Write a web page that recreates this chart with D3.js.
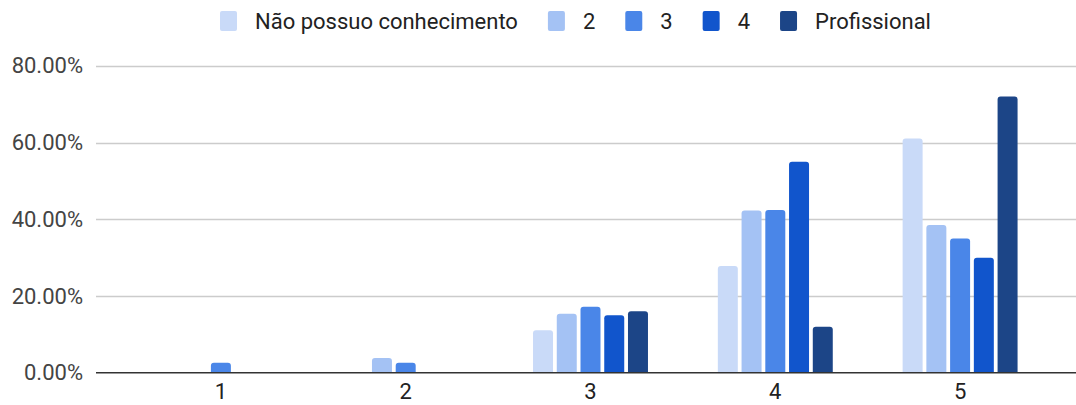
<!DOCTYPE html>
<html>
<head>
<meta charset="utf-8">
<script src="https://cdn.jsdelivr.net/npm/d3@7"></script>
<style>
  body { margin: 0; background: #fff; }
  text { font-family: Roboto, "Liberation Sans", Arial, sans-serif; }
</style>
</head>
<body>
<svg id="chart"></svg>
<script>
var svg_width = 1076;
var svg_height = 405;

// DATA
var categories = ["1", "2", "3", "4", "5"];
var seriesNames = ["Não possuo conhecimento", "2", "3", "4", "Profissional"];
var seriesColors = ["#c9daf8", "#a4c2f4", "#4a86e8", "#1155cc", "#1c4587"];
var naoPossuo = [0, 0, 11.1, 27.8, 61.1];
var nivel2 = [0, 3.85, 15.4, 42.3, 38.5];
var nivel3 = [2.6, 2.6, 17.2, 42.4, 35.0];
var nivel4 = [0, 0, 15, 55, 30];
var profissional = [0, 0, 16, 12, 72];
var yTicks = [0, 20, 40, 60, 80];

var seriesValues = [naoPossuo, nivel2, nivel3, nivel4, profissional];

var svg = d3.select("#chart")
    .attr("width", svg_width)
    .attr("height", svg_height);

// SCALES
var x0 = d3.scaleBand()
           .domain(categories)
           .range([128.5, 1052.5])
           .paddingInner(0.378)
           .paddingOuter(0.189);

var x1 = d3.scaleBand()
           .domain(seriesNames)
           .range([0, x0.bandwidth()])
           .paddingInner(0.158);

var yScale = d3.scaleLinear()
               .domain([0, 80])
               .range([372.7, 65.9]);

// GRIDLINES + Y LABELS
var yAxis = d3.axisLeft(yScale)
              .tickValues(yTicks)
              .tickSize(0)
              .tickPadding(13)
              .tickFormat(function(d) { return d.toFixed(2) + "%"; });

var gy = svg.append("g")
    .attr("transform", "translate(96, 0)")
    .call(yAxis);
gy.select(".domain").remove();
gy.selectAll("text")
    .attr("fill", "#444")
    .attr("font-size", "22px")
    .style("font-family", "Roboto, 'Liberation Sans', Arial, sans-serif");

svg.append("g")
  .selectAll("line")
  .data(yTicks.filter(function(d) { return d > 0; }))
  .enter()
  .append("line")
    .attr("x1", 96)
    .attr("x2", svg_width)
    .attr("y1", function(d) { return Math.round(yScale(d)) + 0.5; })
    .attr("y2", function(d) { return Math.round(yScale(d)) + 0.5; })
    .attr("stroke", "#cccccc")
    .attr("stroke-width", 1.5);

// BARS (rounded top corners)
function barPath(x, y, w, h, r) {
  if (h <= 0) return "";
  r = Math.min(r, h, w / 2);
  return "M" + x + "," + (y + h) +
         "V" + (y + r) +
         "Q" + x + "," + y + " " + (x + r) + "," + y +
         "H" + (x + w - r) +
         "Q" + (x + w) + "," + y + " " + (x + w) + "," + (y + r) +
         "V" + (y + h) + "Z";
}

var groups = svg.append("g")
  .selectAll("g")
  .data(categories)
  .enter()
  .append("g")
    .attr("transform", function(d) { return "translate(" + x0(d) + ",0)"; });

groups.selectAll("path")
  .data(function(d, i) {
    return seriesNames.map(function(s, j) {
      return { series: s, value: seriesValues[j][i], color: seriesColors[j] };
    });
  })
  .enter()
  .append("path")
    .attr("d", function(d) {
      var y = yScale(d.value);
      return barPath(x1(d.series), y, x1.bandwidth(), yScale(0) - y, 3);
    })
    .attr("fill", function(d) { return d.color; });

// X AXIS
var xAxis = d3.axisBottom(x0).tickSize(0).tickPadding(11);
var gx = svg.append("g")
    .attr("transform", "translate(0," + yScale(0) + ")")
    .call(xAxis);
gx.select(".domain").remove();
gx.selectAll("text")
    .attr("fill", "#222")
    .attr("font-size", "22px")
    .style("font-family", "Roboto, 'Liberation Sans', Arial, sans-serif");

svg.append("line")
    .attr("x1", 96)
    .attr("x2", svg_width)
    .attr("y1", yScale(0))
    .attr("y2", yScale(0))
    .attr("stroke", "#333")
    .attr("stroke-width", 1.5);

// LEGEND
var legend = svg.append("g").attr("transform", "translate(220, 0)");
var lx = 0;
seriesNames.forEach(function(name, i) {
  var item = legend.append("g").attr("transform", "translate(" + lx + ",0)");
  item.append("rect")
      .attr("x", 0)
      .attr("y", 11)
      .attr("width", 17)
      .attr("height", 20)
      .attr("rx", 2)
      .attr("fill", seriesColors[i]);
  var t = item.append("text")
      .attr("x", 35)
      .attr("y", 29)
      .attr("font-size", "22px")
      .attr("fill", "#222")
      .text(name);
  lx += 35 + t.node().getComputedTextLength() + 30;
});
</script>
</body>
</html>
